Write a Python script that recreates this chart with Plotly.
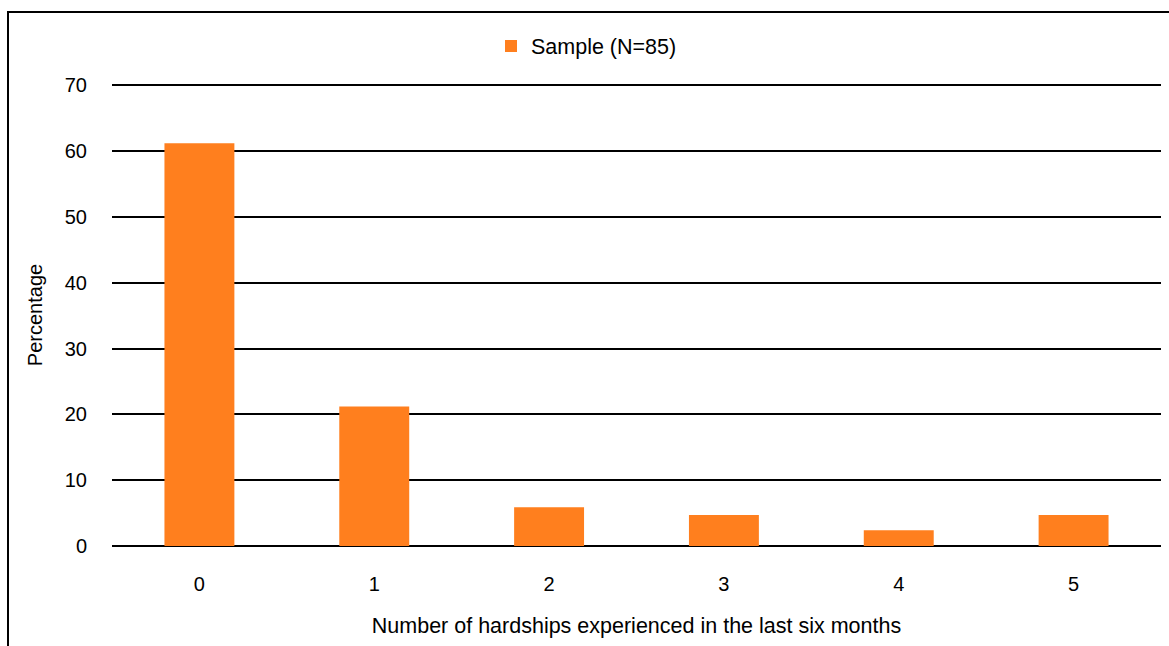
import plotly.graph_objects as go

categories = ["0", "1", "2", "3", "4", "5"]
sample_pct = [61.2, 21.2, 5.9, 4.7, 2.4, 4.7]
series_name = "Sample (N=85)"
y_ticks = [0, 10, 20, 30, 40, 50, 60, 70]

W, H = 1169, 646
ml, mr, mt, mb = 112, 8, 84, 100

fig = go.Figure()
fig.add_trace(go.Bar(
    x=categories, y=sample_pct, name=series_name,
    marker=dict(color="#FF7F1E", line=dict(width=0)),
    width=0.4,
))

pw = W - ml - mr
ph = H - mt - mb
def px_x(p):
    return (p - ml) / pw
def px_y(p):
    return (H - mb - p) / ph

# outer frame (clipped by page edges)
fig.add_shape(type="rect", xref="paper", yref="paper",
              x0=px_x(8), x1=px_x(1300), y0=px_y(800), y1=px_y(12),
              line=dict(color="black", width=2), fillcolor="rgba(0,0,0,0)", layer="above")

font = "Liberation Sans, Arial, sans-serif"
fs = 20
fst = 21.5
fig.update_layout(
    width=W, height=H,
    margin=dict(l=ml, r=mr, t=mt, b=mb),
    paper_bgcolor="white", plot_bgcolor="white",
    font=dict(family=font, size=fs, color="black"),
    showlegend=True,
    legend=dict(orientation="h", x=px_x(491), xanchor="left", y=px_y(46), yanchor="middle",
                font=dict(size=fst), itemwidth=30, bgcolor="rgba(0,0,0,0)"),
    xaxis=dict(title=dict(text="Number of hardships experienced in the last six months",
                          font=dict(size=fst), standoff=23),
               showgrid=False, showline=False, ticks="", tickfont=dict(size=fs),
               ticklabelstandoff=24),
    yaxis=dict(title=dict(text="Percentage", font=dict(size=fs), standoff=16),
               range=[0, 70.2], tickvals=y_ticks, showgrid=True, gridcolor="black",
               gridwidth=2, zeroline=True, zerolinecolor="black", zerolinewidth=2,
               showline=False, ticks="", tickfont=dict(size=fs), ticklabelstandoff=24),
    bargap=0.6,
)

fig.write_html("out.html", config={"displayModeBar": False},
               post_script="document.body.style.margin='0';document.body.style.padding='0';")
